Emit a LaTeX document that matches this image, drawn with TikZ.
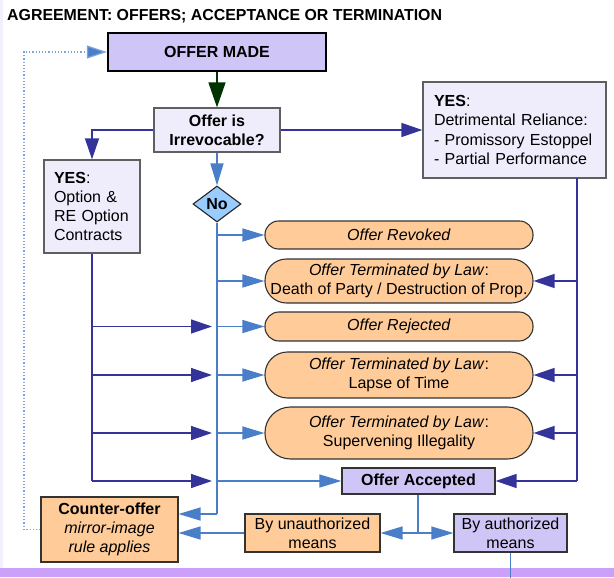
\documentclass[tikz,border=0pt]{standalone}
\usepackage{fontspec}
\setmainfont{Liberation Sans}
\usetikzlibrary{arrows.meta,shapes.geometric}
\definecolor{lav}{RGB}{207,197,246}
\definecolor{palefill}{RGB}{239,236,252}
\definecolor{orangefill}{RGB}{255,204,153}
\definecolor{lblue}{RGB}{74,126,200}
\definecolor{dblue}{RGB}{51,51,153}
\definecolor{dgreen}{RGB}{0,51,0}
\definecolor{diafill}{RGB}{153,204,255}
\definecolor{dotblue}{RGB}{125,163,222}
\definecolor{boxgray}{RGB}{95,95,95}
\definecolor{band}{RGB}{202,160,248}
\definecolor{leftstrip}{RGB}{243,239,253}
\begin{document}
\begin{tikzpicture}[x=1pt,y=-1pt,
  base/.style={font=\fontsize{16}{19.2}\selectfont, inner sep=0pt, align=center},
  palebox/.style={base, draw=boxgray, fill=palefill, line width=1.3pt},
  lavbox/.style={base, draw=black!80, fill=lav, line width=1.3pt},
  orbox/.style={base, draw=black!80, fill=orangefill, line width=1.1pt},
  pill/.style={base, draw=black!80, fill=orangefill, line width=1.1pt, minimum width=268pt},
  lbline/.style={draw=lblue, line width=1.3pt},
  lbarr/.style={lbline, -{Triangle[length=22pt,width=13pt]}},
  dbline/.style={draw=dblue, line width=1.4pt},
  dbarr/.style={dbline, -{Triangle[length=21pt,width=14pt]}},
]
\useasboundingbox (0,0) rectangle (614,578);
\fill[leftstrip] (0,0) rectangle (2.5,567.5);
\fill[band] (0,567.5) rectangle (614,576.5);

% title
\node[anchor=base west, inner sep=0pt, font=\fontsize{15.9}{19}\selectfont\bfseries] (title) at (7,21)
  {AGREEMENT: OFFERS; ACCEPTANCE OR TERMINATION};

% boxes
\node[lavbox, draw=black, line width=2.4pt, minimum width=218pt, minimum height=38pt, font=\fontsize{16}{19.2}\selectfont\bfseries] (offer) at (217,52) {OFFER MADE};
\node[palebox, minimum width=126pt, minimum height=44pt, font=\fontsize{16}{19.2}\selectfont\bfseries] (irrev) at (217,130) {Offer is\\Irrevocable?};
\node[palebox, minimum width=96pt, minimum height=93pt, text width=76pt, align=left] (yesL) at (92,206.5)
  {\textbf{YES}:\\Option \&\\RE Option\\Contracts};
\node[palebox, minimum width=183pt, minimum height=96pt, text width=161pt, align=left] (yesR) at (514.5,130)
  {\textbf{YES}:\\Detrimental Reliance:\\- Promissory Estoppel\\- Partial Performance};
\node[diamond, draw=black!85, fill=diafill, line width=1.1pt, inner sep=0pt, minimum width=48pt, minimum height=36pt,
  font=\fontsize{16}{19.2}\selectfont\bfseries] (no) at (217,204) {No};

\node[pill, minimum height=28pt, rounded corners=13.5pt] (revoked) at (399,235) {\textit{Offer Revoked}};
\node[pill, minimum height=44pt, rounded corners=21.5pt] (death) at (399,281)
  {\textit{Offer Terminated by Law}:\\Death of Party / Destruction of Prop.};
\node[pill, minimum height=29pt, rounded corners=14pt] (rejected) at (399,326.5) {\textit{Offer Rejected}};
\node[pill, minimum height=46pt, rounded corners=22.5pt] (lapse) at (399,375)
  {\textit{Offer Terminated by Law}:\\Lapse of Time};
\node[pill, minimum height=52pt, rounded corners=25.5pt] (superv) at (399,433)
  {\textit{Offer Terminated by Law}:\\Supervening Illegality};

\node[lavbox, minimum width=153pt, minimum height=26pt, font=\fontsize{16}{19.2}\selectfont\bfseries] (accepted) at (418.5,481) {Offer Accepted};
\node[orbox, minimum width=137pt, minimum height=65pt] (counter) at (109.5,529.5)
  {\textbf{Counter-offer}\\\textit{mirror-image}\\\textit{rule applies}};
\node[orbox, minimum width=135pt, minimum height=38pt] (unauth) at (312.5,533) {By unauthorized\\means};
\node[lavbox, minimum width=113pt, minimum height=38pt] (auth) at (510.5,533) {By authorized\\means};

% coordinates
\coordinate (nb) at (217,514);
\coordinate (rtop) at (577,178);
\coordinate (ab) at (418,533);
\coordinate (bot) at (510.5,578);
\coordinate (dl) at (24,529.5);
\coordinate (dt) at (24,52);

% connectors
\draw[draw=dgreen, line width=1.6pt, -{Triangle[length=25pt,width=17pt]}] (offer.south) -- (irrev.north);
\draw[dbarr] (irrev.west) -| (yesL.north);
\draw[dbarr] (irrev.east) -- (yesR.west);
\draw[lbarr] (irrev.south) -- (no.north);

% left "No" trunk
\draw[lbline] (no.south) -- (nb);
\draw[lbarr] (nb) -- (nb -| counter.east);
\foreach \t in {revoked,death,rejected,lapse,superv}{
  \draw[lbarr] (no.south |- \t.west) -- (\t.west);
}
\draw[lbarr] (no.south |- accepted.west) -- (accepted.west);

% YES (option) trunk
\draw[dbline] (yesL.south) -- (yesL.south |- accepted.west);
\foreach \t in {rejected,lapse,superv,accepted}{
  \draw[dbarr] (yesL.south |- \t.west) -- ([xshift=-5pt]no.south |- \t.west);
}

% YES (reliance) trunk
\draw[dbline] (rtop) -- (rtop |- accepted.east);
\foreach \t in {death,lapse,superv,accepted}{
  \draw[dbarr] (rtop |- \t.east) -- (\t.east);
}

% acceptance
\draw[lbline] (accepted.south -| ab) -- (ab);
\draw[lbarr] (ab) -- (unauth.east);
\draw[lbarr] (ab) -- (auth.west);
\draw[lbarr] (unauth.west) -- (unauth.west -| counter.east);
\draw[lbline] (auth.south) -- (bot);

% dotted feedback
\draw[draw=dotblue, line width=1.2pt, dotted, -{Triangle[length=20pt,width=13pt,fill=lblue]}]
  (counter.west) -- (dl) -- (dt) -- (offer.west);
\end{tikzpicture}
\end{document}
